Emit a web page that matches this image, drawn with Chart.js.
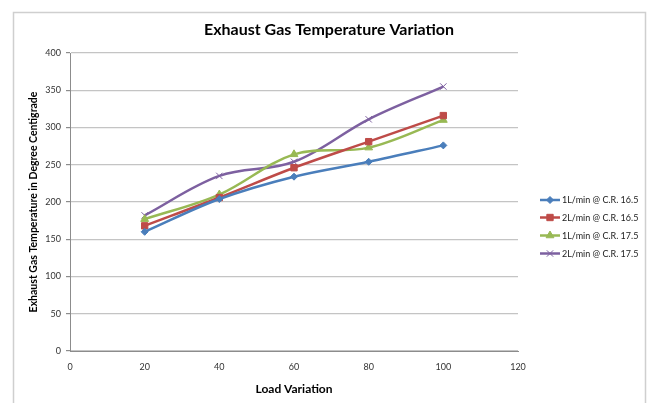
<!DOCTYPE html>
<html>
<head>
<meta charset="utf-8">
<script src="https://cdn.jsdelivr.net/npm/chart.js@4"></script>
<style>
html,body{margin:0;padding:0;background:#fff;}
#wrap{width:651px;height:403px;position:relative;}
</style>
</head>
<body>
<div id="wrap"><canvas id="c" width="651" height="403"></canvas></div>
<script>
const loads = [20, 40, 60, 80, 100];
const s1 = [160, 204, 234, 254, 276];   // 1L/min @ C.R. 16.5
const s2 = [168, 206, 246, 281, 316];   // 2L/min @ C.R. 16.5
const s3 = [177, 210, 264, 273, 310];   // 1L/min @ C.R. 17.5
const s4 = [182, 235, 254, 311, 355];   // 2L/min @ C.R. 17.5
const seriesNames = ['1L/min @ C.R. 16.5', '2L/min @ C.R. 16.5', '1L/min @ C.R. 17.5', '2L/min @ C.R. 17.5'];
const xTicks = [0, 20, 40, 60, 80, 100, 120];
const yTicks = [0, 50, 100, 150, 200, 250, 300, 350, 400];
const chartTitle = 'Exhaust Gas Temperature Variation';
const xTitle = 'Load Variation';
const yTitle = 'Exhaust Gas Temperature in Degree Centigrade';

const FONT = 'Lato, "Open Sans", sans-serif';
const colors = ['#4A7EBB', '#BE4B48', '#98B954', '#7D60A0'];
const styles = ['rectRot', 'rect', 'triangle', 'crossRot'];
const radii = [3.5, 4.5, 4.5, 4.5];

function mk(i, vals) {
  return {
    label: seriesNames[i],
    data: loads.map((x, k) => ({x: x, y: vals[k]})),
    borderColor: colors[i],
    backgroundColor: colors[i],
    borderWidth: 2.5,
    pointStyle: styles[i],
    pointRadius: radii[i],
    pointBorderWidth: 1,
    pointBorderColor: colors[i],
    pointBackgroundColor: colors[i],
    tension: 0.35,
    fill: false
  };
}

const decor = {
  id: 'decor',
  beforeDraw(chart) {
    const ctx = chart.ctx;
    ctx.save();
    ctx.fillStyle = '#fff';
    ctx.fillRect(0, 0, chart.width, chart.height);
    ctx.strokeStyle = '#cfcfcf';
    ctx.lineWidth = 1.5;
    ctx.beginPath();
    ctx.moveTo(13.5, 403);
    ctx.lineTo(13.5, 12.5);
    ctx.lineTo(645.5, 12.5);
    ctx.lineTo(645.5, 403);
    ctx.stroke();
    ctx.restore();
  },
  afterDraw(chart) {
    const ctx = chart.ctx;
    ctx.save();
    ctx.fillStyle = '#000';
    ctx.font = 'bold 16px ' + FONT;
    ctx.textAlign = 'center';
    ctx.textBaseline = 'middle';
    ctx.fillText(chartTitle, 329, 30);
    ctx.font = '9px ' + FONT;
    ctx.textAlign = 'left';
    const ys = [200, 217.5, 235.5, 253.5];
    chart.data.datasets.forEach((ds, i) => {
      const y = ys[i];
      ctx.strokeStyle = ds.borderColor;
      ctx.lineWidth = 2.5;
      ctx.beginPath();
      ctx.moveTo(540, y);
      ctx.lineTo(560, y);
      ctx.stroke();
      ctx.fillStyle = ds.borderColor;
      ctx.strokeStyle = ds.borderColor;
      ctx.lineWidth = 1;
      Chart.helpers.drawPoint(ctx, {pointStyle: ds.pointStyle, radius: ds.pointRadius, rotation: 0, borderWidth: 1}, 550, y);
      ctx.fillStyle = '#222';
      ctx.fillText(ds.label, 562, y + 0.5);
    });
    ctx.restore();
  }
};

new Chart(document.getElementById('c'), {
  type: 'line',
  data: {
    datasets: [mk(0, s1), mk(1, s2), mk(2, s3), mk(3, s4)]
  },
  options: {
    responsive: false,
    animation: false,
    devicePixelRatio: 1,
    layout: { padding: { left: 13, top: 53, right: 133, bottom: 0 } },
    plugins: {
      legend: { display: false },
      title: { display: false },
      tooltip: { enabled: false }
    },
    scales: {
      x: {
        type: 'linear',
        min: 0, max: 120,
        afterBuildTicks(ax) { ax.ticks = xTicks.map(v => ({value: v})); },
        afterFit(ax) { ax.height = 52; },
        grid: { display: false, drawTicks: false },
        border: { display: true, color: '#8c8c8c', width: 1 },
        ticks: { font: { family: FONT, size: 9 }, color: '#333', padding: 11, maxRotation: 0 },
        title: { display: true, text: xTitle, font: { family: FONT, size: 12, weight: 'bold' }, color: '#000', padding: { top: 5, bottom: 7 } }
      },
      y: {
        type: 'linear',
        min: 0, max: 400,
        afterBuildTicks(ax) { ax.ticks = yTicks.map(v => ({value: v})); },
        afterFit(ax) { ax.width = 57; },
        grid: { color: '#c4c4c4', lineWidth: 1.2, tickLength: 4, tickColor: '#8c8c8c', drawOnChartArea: true },
        border: { display: true, color: '#8c8c8c', width: 1 },
        ticks: { font: { family: FONT, size: 9 }, color: '#333', padding: 5 },
        title: { display: true, text: yTitle, font: { family: FONT, size: 10.5, weight: 'bold' }, color: '#000', padding: { top: 14, bottom: 0 } }
      }
    }
  },
  plugins: [decor]
});
</script>
</body>
</html>
